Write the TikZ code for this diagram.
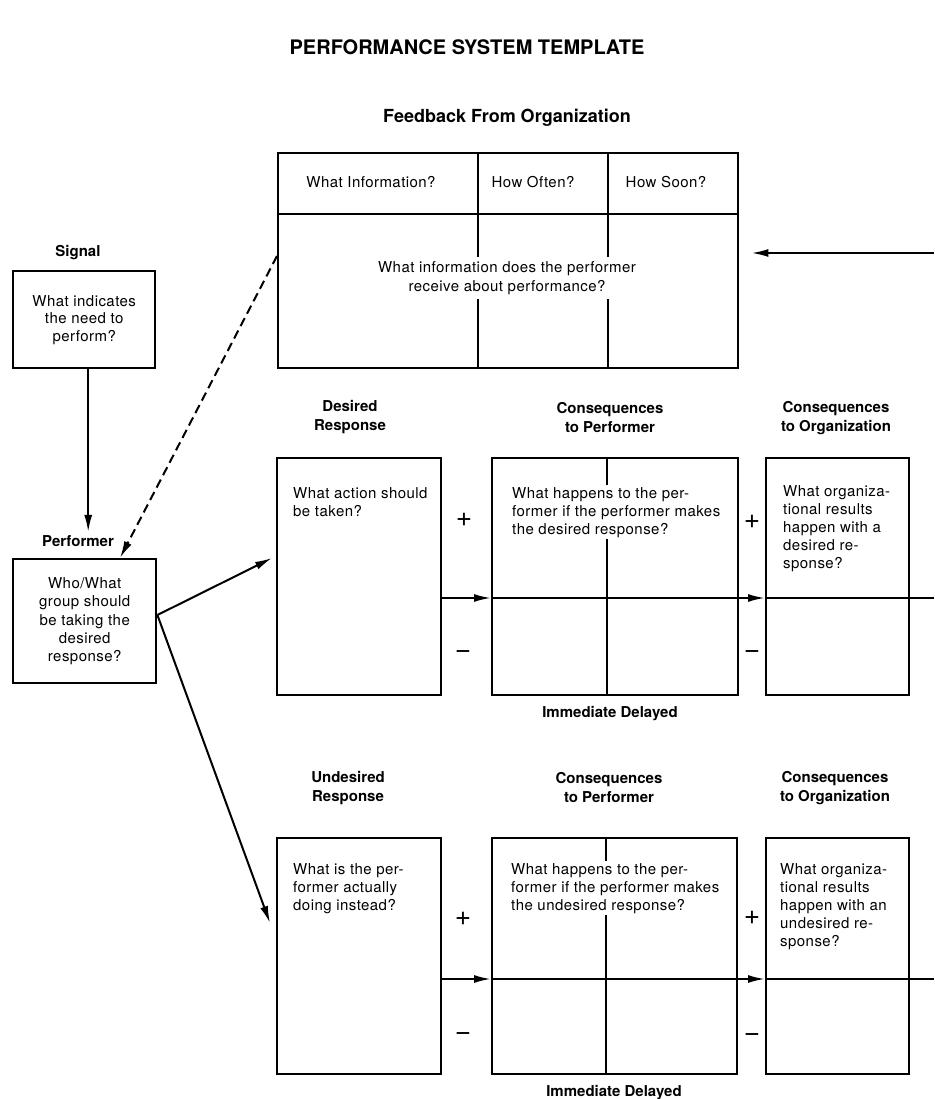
\documentclass[tikz,border=0pt]{standalone}
\usepackage{fontspec}
\setmainfont{TeX Gyre Heros}
\newfontfamily\spaced[LetterSpace=3]{TeX Gyre Heros}
\usetikzlibrary{arrows.meta,calc}
\begin{document}
\begin{tikzpicture}[x=1pt,y=-1pt,
  box/.style={draw, line width=2.4pt, anchor=north west, inner sep=0pt,
    font=\spaced\fontsize{15}{17.5}\selectfont, align=center},
  rule/.style={line width=2pt},
  arr/.style={line width=2pt, -{Latex[length=17pt,width=8pt]}},
  lbl/.style={font=\fontsize{15}{19}\selectfont\bfseries, align=center},
  body/.style={font=\spaced\fontsize{15}{18}\selectfont, align=left, anchor=north west, inner sep=0pt},
  ctr/.style={font=\spaced\fontsize{15}{19}\selectfont, align=center},
  sign/.style={font=\fontsize{28}{28}\selectfont, inner sep=0pt}
]
\useasboundingbox (0,0) rectangle (934,1099);

% headings
\node[font=\fontsize{20}{20}\selectfont\bfseries] (title) at (467,47) {PERFORMANCE SYSTEM TEMPLATE};
\node[font=\fontsize{18}{18}\selectfont\bfseries] (fblbl) at (507,118) {Feedback From Organization};

% feedback table
\node[box, minimum width=460pt, minimum height=215pt] (fb) at (277,152) {};
\draw[rule] ($(fb.north west)+(0,62)$) -- ($(fb.north east)+(0,62)$);
\draw[rule] ($(fb.north west)+(201,0)$) -- ($(fb.south west)+(201,0)$);
\draw[rule] ($(fb.north west)+(331,0)$) -- ($(fb.south west)+(331,0)$);
\node[ctr] (fbh1) at (371,182) {What Information?};
\node[ctr] (fbh2) at (533,182) {How Often?};
\node[ctr] (fbh3) at (666,182) {How Soon?};
\node[ctr, fill=white, inner sep=4pt] (fbq) at (507,278)
  {What information does the performer\\receive about performance?};
\coordinate (fbin) at (934,253);
\draw[arr, shorten >=12pt] (fbin) -- (fbin -| fb.east);

% signal and performer
\node[lbl] (siglbl) at (78,253) {Signal};
\node[box, minimum width=142pt, minimum height=97pt] (sig) at (12,270)
  {What indicates\\the need to\\perform?};
\node[lbl] (perflbl) at (78,541) {Performer};
\node[box, minimum width=143pt, minimum height=124pt, font=\spaced\fontsize{15}{18.2}\selectfont] (perf) at (12,558)
  {Who/What\\group should\\be taking the\\desired\\response?};
\draw[arr] ($(sig.south)+(4,0)$) -- ($(sig.south |- perflbl.north)+(4,0)$);
\draw[arr, dash pattern=on 9pt off 5pt] ($(fb.north west)+(0,104)$) -- ($(perf.north west)+(108,0)$);

% desired row
\node[lbl] (drlbl) at (350,417) {Desired\\Response};
\node[lbl] (cp1lbl) at (610,418) {Consequences\\to Performer};
\node[lbl] (co1lbl) at (836,418) {Consequences\\to Organization};
\node[box, minimum width=164pt, minimum height=237pt] (dr) at (276,457) {};
\node[box, minimum width=246pt, minimum height=237pt] (cp1) at (491,457) {};
\node[box, minimum width=143pt, minimum height=237pt] (co1) at (765,457) {};
\draw[rule] ($(cp1.north west)+(116,0)$) -- ($(cp1.south west)+(116,0)$);
\draw[rule] ($(cp1.north west)+(0,141)$) -- ($(cp1.north east)+(0,141)$);
\coordinate (out1) at (934,598);
\draw[rule] ($(co1.north west)+(0,141)$) -- (out1);
\draw[arr] ($(dr.north east)+(0,141)$) -- ($(cp1.north west)+(0,141)$);
\draw[arr] ($(cp1.north east)+(0,141)$) -- ($(co1.north west)+(0,141)$);
\node[body] (drq) at (293,487) {What action should\\be taken?};
\node[body, fill=white, inner sep=2pt] (cp1q) at (510,485)
  {What happens to the per-\\former if the performer makes\\the desired response?};
\node[body] (co1q) at (783,485)
  {What organiza-\\tional results\\happen with a\\desired re-\\sponse?};
\node[sign] (p1a) at (464,520) {+};
\node[sign] (m1a) at (463,655) {−};
\node[sign] (p1b) at (752,522) {+};
\node[sign] (m1b) at (752,655) {−};
\node[lbl] (t1) at (610,714) {Immediate Delayed};

% undesired row
\node[lbl] (urlbl) at (348,788) {Undesired\\Response};
\node[lbl] (cp2lbl) at (609,788) {Consequences\\to Performer};
\node[lbl] (co2lbl) at (835,788) {Consequences\\to Organization};
\node[box, minimum width=164pt, minimum height=236pt] (ur) at (276,837) {};
\node[box, minimum width=245pt, minimum height=236pt] (cp2) at (491,837) {};
\node[box, minimum width=143pt, minimum height=236pt] (co2) at (765,837) {};
\draw[rule] ($(cp2.north west)+(115,0)$) -- ($(cp2.south west)+(115,0)$);
\draw[rule] ($(cp2.north west)+(0,142)$) -- ($(cp2.north east)+(0,142)$);
\coordinate (out2) at (934,979);
\draw[rule] ($(co2.north west)+(0,142)$) -- (out2);
\draw[arr] ($(ur.north east)+(0,142)$) -- ($(cp2.north west)+(0,142)$);
\draw[arr] ($(cp2.north east)+(0,142)$) -- ($(co2.north west)+(0,142)$);
\node[body] (urq) at (293,863) {What is the per-\\former actually\\doing instead?};
\node[body, fill=white, inner sep=2pt] (cp2q) at (509,861)
  {What happens to the per-\\former if the performer makes\\the undesired response?};
\node[body] (co2q) at (780,863)
  {What organiza-\\tional results\\happen with an\\undesired re-\\sponse?};
\node[sign] (p2a) at (463,919) {+};
\node[sign] (m2a) at (463,1037) {−};
\node[sign] (p2b) at (752,918) {+};
\node[sign] (m2b) at (752,1038) {−};
\node[lbl] (t2) at (614,1093) {Immediate Delayed};

% performer to responses
\coordinate (pout) at ($(perf.north east)+(0,57)$);
\draw[arr] (pout) -- ($(dr.north west)+(-4,101)$);
\draw[arr] (pout) -- ($(ur.north west)+(-6,86)$);
\end{tikzpicture}
\end{document}
